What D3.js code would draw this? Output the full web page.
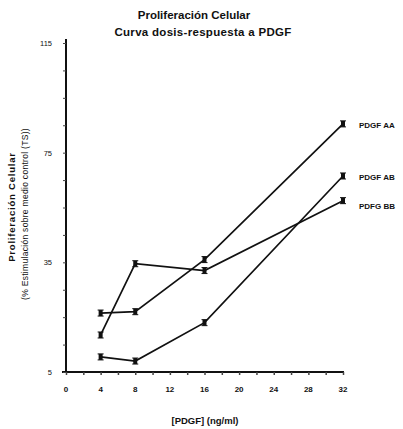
<!DOCTYPE html>
<html>
<head>
<meta charset="utf-8">
<script src="https://cdn.jsdelivr.net/npm/d3@7"></script>
<style>
  html, body { margin: 0; padding: 0; background: #fff; }
  svg { display: block; }
  text { font-family: "Liberation Sans Narrow", "Liberation Sans", Arial, sans-serif; fill: #111; }
</style>
</head>
<body>
<svg id="chart" width="403" height="429"></svg>
<script>
// ---- data ----
const doses = [4, 8, 16, 32];
const seriesNames = ["PDGF AA", "PDGF AB", "PDFG BB"];
const valuesAA = [16.5, 17, 36, 85.5];
const valuesAB = [0.5, -1, 13, 66.5];
const valuesBB = [8.5, 34.5, 32, 57.5];
const xTickValues = [0, 4, 8, 12, 16, 20, 24, 28, 32];
const yTickValues = [-5, 35, 75, 115];
const yTickLabels = ["5", "35", "75", "115"];

const series = [
  { name: seriesNames[0], values: valuesAA },
  { name: seriesNames[1], values: valuesAB },
  { name: seriesNames[2], values: valuesBB }
];

const svg = d3.select("#chart");
const x = d3.scaleLinear().domain([0, 32]).range([66, 343]);
const y = d3.scaleLinear().domain([-5, 115]).range([372, 43]);

// Title
svg.append("text").attr("x", 194).attr("y", 19).attr("text-anchor", "middle")
  .attr("font-size", 11.5).attr("font-weight", "bold").text("Proliferación Celular");
svg.append("text").attr("x", 203).attr("y", 36).attr("text-anchor", "middle")
  .attr("font-size", 11.5).attr("font-weight", "bold").attr("letter-spacing", 0.3).text("Curva dosis-respuesta a PDGF");

// X axis
const xAxis = svg.append("g").attr("transform", `translate(0,${y(-5)})`)
  .call(d3.axisBottom(x).tickValues(d3.range(0, 33, 2)).tickSize(3).tickFormat(""));
xAxis.select(".domain").attr("stroke", "#111").attr("stroke-width", 2).attr("d", `M${x(0) - 4},0H${x(32) + 1}`);
xAxis.selectAll(".tick line").attr("stroke", "#444").attr("stroke-width", 1.5);
svg.append("g").selectAll("text").data(xTickValues).join("text")
  .attr("x", d => x(d)).attr("y", y(-5) + 20).attr("text-anchor", "middle")
  .attr("font-size", 8).attr("font-weight", "bold").text(d => d);

// Y axis
const yAxis = svg.append("g").attr("transform", `translate(${x(0)},0)`)
  .call(d3.axisLeft(y).tickValues(d3.range(-5, 116, 10)).tickSize(3).tickFormat(""));
yAxis.select(".domain").attr("stroke", "#111").attr("stroke-width", 2).attr("d", `M0,${y(115) - 4}V${y(-5)}`);
yAxis.selectAll(".tick line").attr("stroke", "#444").attr("stroke-width", 1);
svg.append("g").selectAll("text").data(yTickValues).join("text")
  .attr("x", x(0) - 14).attr("y", d => y(d) + 3).attr("text-anchor", "end")
  .attr("font-size", 7.5).text((d, i) => yTickLabels[i]);

// Axis titles
svg.append("text").attr("x", 205).attr("y", 424).attr("text-anchor", "middle")
  .attr("font-size", 9.5).attr("font-weight", "bold").text("[PDGF] (ng/ml)");
svg.append("text").attr("transform", "translate(15,207) rotate(-90)").attr("text-anchor", "middle")
  .attr("font-size", 9.5).attr("font-weight", "bold").attr("letter-spacing", 0.8).text("Proliferación Celular");
svg.append("text").attr("transform", "translate(28,214) rotate(-90)").attr("text-anchor", "middle")
  .attr("font-size", 8.5).attr("letter-spacing", 0.3).text("(% Estimulación sobre medio control (TS))");

// Lines
const line = d3.line().x((d, i) => x(doses[i])).y(d => y(d));
svg.append("g").selectAll("path").data(series).join("path")
  .attr("d", d => line(d.values)).attr("fill", "none")
  .attr("stroke", "#111").attr("stroke-width", 1.7);

// Markers (small error bars)
series.forEach(s => {
  const g = svg.append("g");
  s.values.forEach((v, i) => {
    const cx = x(doses[i]), cy = y(v);
    g.append("rect").attr("x", cx - 2).attr("y", cy - 3).attr("width", 4).attr("height", 6).attr("fill", "#111");
    g.append("line").attr("x1", cx - 3).attr("x2", cx + 3).attr("y1", cy - 3).attr("y2", cy - 3).attr("stroke", "#111").attr("stroke-width", 1);
    g.append("line").attr("x1", cx - 3).attr("x2", cx + 3).attr("y1", cy + 3).attr("y2", cy + 3).attr("stroke", "#111").attr("stroke-width", 1);
  });
  // series label
  svg.append("text").attr("x", x(32) + 16).attr("y", y(s.values[3]) + 4 + (s.name === "PDFG BB" ? 4 : 0))
    .attr("font-size", 8).attr("font-weight", "bold").text(s.name);
});
</script>
</body>
</html>
